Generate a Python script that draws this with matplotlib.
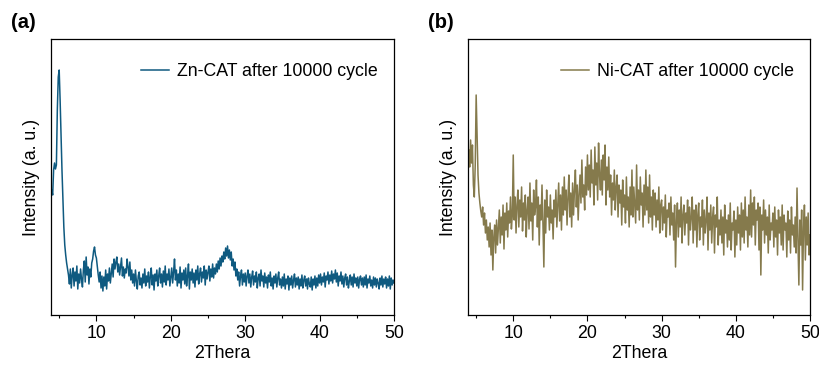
import numpy as np
import matplotlib
matplotlib.use("Agg")
import matplotlib.pyplot as plt
from matplotlib.ticker import MultipleLocator

plt.rcParams['font.family'] = ['Liberation Sans', 'DejaVu Sans']

# 2theta grid, 0.125 deg steps from 4 to 50 (8 points per degree)
two_theta = np.arange(4.0, 50.001, 0.125)

# intensities (arbitrary units), one row per degree
zn_cat = [
    125, 120, 145, 152, 146, 150, 205, 238,  # 4
    245, 215, 180, 145, 115, 88, 70, 60,     # 5
    52, 46, 40, 31, 46, 27, 40, 47,          # 6
    29, 43, 34, 49, 26, 41, 32, 46,          # 7
    36, 28, 45, 54, 33, 58, 40, 48,          # 8
    31, 46, 38, 52, 56, 64, 68, 60,          # 9
    57, 48, 40, 33, 43, 27, 39, 24,          # 10
    38, 29, 45, 26, 41, 34, 47, 32,          # 11
    42, 51, 38, 56, 46, 53, 58, 43,          # 12
    51, 40, 49, 57, 39, 48, 37, 46,          # 13
    42, 56, 48, 39, 53, 35, 45, 32,          # 14
    41, 29, 45, 34, 26, 39, 43, 30,          # 15
    37, 27, 41, 32, 46, 29, 39, 33,          # 16
    43, 27, 38, 47, 30, 40, 25, 41,          # 17
    34, 45, 29, 39, 47, 32, 41, 28,          # 18
    44, 33, 49, 30, 41, 35, 46, 29,          # 19
    38, 47, 32, 43, 56, 35, 45, 29,          # 20
    41, 32, 48, 27, 42, 35, 45, 31,          # 21
    47, 29, 39, 51, 26, 43, 35, 46,          # 22
    32, 42, 28, 45, 35, 49, 31, 41,          # 23
    47, 33, 43, 37, 49, 30, 45, 36,          # 24
    43, 49, 34, 46, 38, 51, 37, 47,          # 25
    41, 51, 43, 54, 46, 57, 49, 59,          # 26
    53, 63, 56, 67, 59, 69, 57, 65,          # 27
    55, 63, 49, 56, 45, 53, 39, 46,          # 28
    35, 43, 29, 39, 45, 30, 41, 33,          # 29
    42, 29, 39, 45, 32, 41, 28, 38,          # 30
    44, 30, 39, 33, 43, 27, 37, 41,          # 31
    29, 45, 34, 39, 28, 42, 32, 38,          # 32
    27, 40, 33, 43, 29, 37, 26, 39,          # 33
    32, 41, 28, 37, 43, 30, 36, 27,          # 34
    38, 29, 41, 26, 36, 31, 39, 25,          # 35
    37, 30, 39, 27, 35, 41, 28, 37,          # 36
    30, 38, 26, 36, 29, 40, 27, 35,          # 37
    39, 29, 36, 26, 37, 31, 28, 38,          # 38
    25, 36, 30, 39, 27, 37, 29, 40,          # 39
    32, 41, 30, 38, 33, 42, 28, 39,          # 40
    35, 43, 31, 40, 34, 44, 32, 41,          # 41
    36, 45, 33, 42, 29, 39, 34, 43,          # 42
    31, 39, 28, 37, 41, 30, 38, 27,          # 43
    34, 40, 30, 38, 28, 41, 32, 37,          # 44
    29, 38, 27, 36, 39, 30, 37, 28,          # 45
    38, 30, 40, 27, 36, 32, 39, 29,          # 46
    35, 27, 38, 30, 37, 28, 36, 32,          # 47
    26, 37, 30, 39, 28, 36, 31, 38,          # 48
    27, 36, 29, 39, 26, 37, 30, 35,          # 49
    32,
]

ni_cat = [
    165, 148, 175, 152, 170, 130, 118, 150,  # 4
    220, 178, 140, 122, 112, 104, 98, 108,   # 5
    90, 102, 82, 95, 75, 88, 68, 92,         # 6
    60, 85, 45, 78, 90, 62, 95, 70,          # 7
    88, 105, 72, 98, 80, 110, 66, 102,       # 8
    85, 112, 78, 104, 92, 118, 86, 100,      # 9
    160, 95, 118, 82, 110, 125, 88, 115,     # 10
    98, 128, 84, 112, 95, 120, 78, 105,      # 11
    118, 86, 132, 94, 112, 75, 125, 100,     # 12
    108, 135, 88, 118, 70, 110, 95, 130,     # 13
    92, 48, 115, 82, 125, 98, 108, 85,       # 14
    120, 92, 105, 76, 115, 98, 125, 88,      # 15
    110, 132, 94, 120, 85, 128, 100, 138,    # 16
    105, 125, 90, 118, 140, 98, 122, 88,     # 17
    132, 100, 125, 145, 108, 130, 95, 120,   # 18
    140, 112, 155, 118, 130, 105, 148, 120,  # 19
    160, 125, 150, 118, 165, 132, 145, 110,  # 20
    168, 130, 152, 115, 172, 140, 125, 155,  # 21
    120, 160, 135, 170, 110, 148, 125, 158,  # 22
    118, 140, 100, 132, 115, 145, 105, 128,  # 23
    140, 98, 130, 112, 125, 90, 135, 108,    # 24
    120, 92, 138, 105, 118, 88, 128, 100,    # 25
    145, 98, 128, 110, 92, 150, 105, 125,    # 26
    95, 138, 110, 122, 88, 130, 100, 145,    # 27
    105, 128, 92, 140, 98, 118, 85, 125,     # 28
    100, 122, 88, 115, 95, 128, 82, 110,     # 29
    115, 85, 108, 92, 120, 78, 105, 98,      # 30
    112, 80, 118, 90, 102, 75, 110, 48,      # 31
    95, 112, 78, 105, 88, 118, 72, 100,      # 32
    110, 80, 102, 92, 115, 70, 108, 85,      # 33
    98, 118, 72, 105, 85, 110, 68, 100,      # 34
    112, 75, 98, 88, 115, 70, 105, 82,       # 35
    95, 118, 65, 102, 85, 110, 72, 98,       # 36
    108, 62, 100, 88, 118, 70, 95, 80,       # 37
    105, 72, 98, 60, 110, 82, 95, 68,        # 38
    100, 75, 112, 65, 92, 85, 104, 58,       # 39
    95, 70, 108, 82, 100, 65, 112, 78,       # 40
    105, 72, 118, 85, 98, 68, 110, 80,       # 41
    125, 78, 112, 90, 118, 70, 105, 95,      # 42
    112, 65, 108, 40, 100, 85, 115, 72,      # 43
    105, 80, 98, 62, 110, 75, 92, 85,        # 44
    102, 68, 108, 78, 95, 60, 105, 82,       # 45
    98, 70, 110, 65, 100, 85, 92, 58,        # 46
    104, 75, 95, 62, 108, 80, 90, 68,        # 47
    98, 62, 127, 75, 30, 95, 70, 105,        # 48
    25, 88, 110, 55, 98, 70, 102, 60,        # 49
    80,
]

labels = ["Zn-CAT after 10000 cycle", "Ni-CAT after 10000 cycle"]
colors = ["#0f5a80", "#857a4c"]
panels = ["(a)", "(b)"]

fig = plt.figure(figsize=(8.2, 3.66), dpi=100)
W, H = 820, 366
boxes = [(51, 39, 394, 315), (468, 39, 810, 315)]

for i, (data, lab, col, tag) in enumerate(zip([zn_cat, ni_cat], labels, colors, panels)):
    l, t, r, b = boxes[i]
    ax = fig.add_axes([l / W, 1 - b / H, (r - l) / W, (b - t) / H])
    ax.plot(two_theta, data, color=col, lw=1.1, label=lab)
    ax.set_xlim(3.9, 50)
    ax.set_ylim(0, 276)
    ax.xaxis.set_major_locator(MultipleLocator(10))
    ax.xaxis.set_minor_locator(MultipleLocator(5))
    ax.tick_params(axis='x', which='major', direction='out', length=4, width=0.8,
                   labelsize=12.8, pad=3)
    ax.tick_params(axis='x', which='minor', direction='out', length=2.5, width=0.8)
    ax.set_yticks([])
    for s in ax.spines.values():
        s.set_linewidth(0.9)
    ax.set_xlabel("2Thera", fontsize=12.8, labelpad=2)
    ax.set_ylabel("Intensity (a. u.)", fontsize=12.8, labelpad=8)
    ax.legend(loc='upper right', frameon=False, fontsize=12.8, handlelength=1.6,
              handletextpad=0.45, bbox_to_anchor=(1.0, 0.97))
    fig.text((l - 40) / W, 1 - 22 / H, tag, fontsize=14.5, fontweight='bold',
             va='center', ha='left')

fig.savefig("out.png", dpi=100)
